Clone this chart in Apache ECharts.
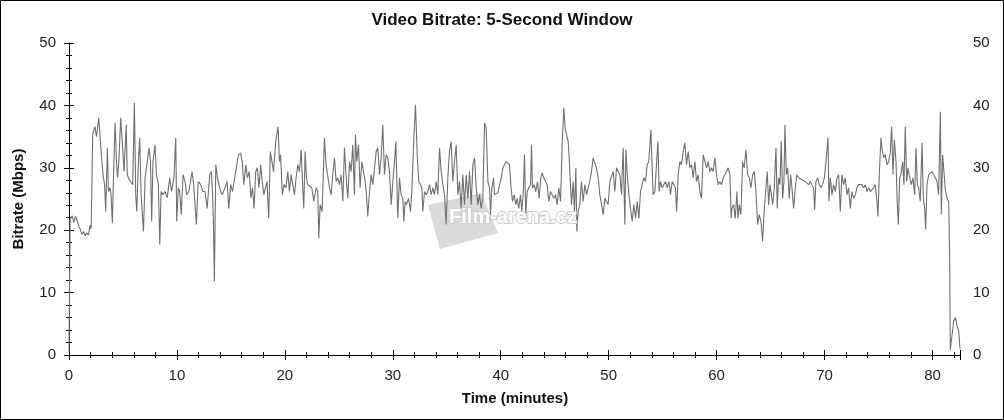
<!DOCTYPE html>
<html><head><meta charset="utf-8">
<script src="https://cdn.jsdelivr.net/npm/echarts@6/dist/echarts.min.js"></script>
<style>html,body{margin:0;padding:0;background:#fff}#c{width:1004px;height:420px}</style>
</head><body><div id="c"></div>
<script>
// [minute, Mbps]
const seg1 = [[0,0.5],[0.1,21.8],[0.3,22.3],[0.45,21.2],[0.6,22.2],[0.75,21.6],[0.9,20.6],[1.05,20.1],[1.2,19.3],[1.35,19.8],[1.5,19.1],[1.65,19.6],[1.8,19.2],[1.95,20.8],[2.05,20.2],[2.2,35.3],[2.4,36.6],[2.55,35.0],[2.75,38.0],[2.85,35.8],[3.0,32.0],[3.15,28.9],[3.3,27.3],[3.4,23.0],[3.56,33.2],[3.65,26.2],[3.8,26.8],[3.9,25.5],[4.02,21.1],[4.12,28.4],[4.27,37.2],[4.4,31.0],[4.5,28.4],[4.62,31.0],[4.79,38.0],[4.95,33.7],[5.1,29.4],[5.3,36.9],[5.4,28.9],[5.55,28.2],[5.7,27.8],[5.9,27.3],[6.06,40.4],[6.18,25.7],[6.28,23.0],[6.43,31.0],[6.55,34.8],[6.68,25.7],[6.9,19.8],[7.05,28.4],[7.25,31.0],[7.42,33.2],[7.55,31.0],[7.66,21.4],[7.78,31.0],[7.97,33.7],[8.1,28.9],[8.28,27.3],[8.41,17.7],[8.53,26.2],[8.7,25.7],[8.9,26.2],[9.1,25.2],[9.33,28.4],[9.5,26.2],[9.72,28.4],[9.89,34.8],[9.98,21.4],[10.13,26.8],[10.25,26.2],[10.4,22.5],[10.57,28.9],[10.75,27.8],[10.9,25.7],[11.1,26.2],[11.4,29.4],[11.55,27.3],[11.8,20.9],[11.97,27.8],[12.2,27.3],[12.4,26.2],[12.6,26.2],[12.8,23.5],[13.04,28.9],[13.2,29.4],[13.3,25.7],[13.38,21.4],[13.47,11.8],[13.6,30.5],[13.75,28.4],[13.9,28.6],[14.05,26.2],[14.2,25.7],[14.45,26.8],[14.65,27.8],[14.8,23.5],[14.98,27.3],[15.15,26.2],[15.35,28.4],[15.5,30.0],[15.7,32.1],[15.9,32.4],[16.05,31.0],[16.2,27.3],[16.38,30.5],[16.53,28.4],[16.7,29.4],[16.85,25.2],[17.0,26.8],[17.15,23.5],[17.3,29.4],[17.45,30.0],[17.6,26.8],[17.76,30.5],[17.9,27.8],[18.05,25.7],[18.2,26.8],[18.35,27.8],[18.5,21.9],[18.65,32.6],[18.8,31.0],[18.95,29.4],[19.15,34.2],[19.37,36.6],[19.5,31.0],[19.6,32.1],[19.77,25.7],[19.93,27.3],[20.1,26.8]];
const seg2 = [[20.27,29.4],[20.42,26.2],[20.58,28.9],[20.73,27.3],[20.89,25.7],[21.04,28.4],[21.2,30.5],[21.35,29.4],[21.51,32.9],[21.66,26.8],[21.75,23.5],[21.88,32.6],[22.0,28.4],[22.12,27.3],[22.28,27.3],[22.49,26.8],[22.68,24.6],[22.9,26.8],[23.05,26.2],[23.14,18.7],[23.27,24.1],[23.45,23.0],[23.67,34.8],[23.82,30.5],[23.98,30.5],[24.13,26.8],[24.29,25.7],[24.44,28.9],[24.6,31.6],[24.75,27.8],[24.9,28.4],[25.06,27.3],[25.21,28.9],[25.37,24.6],[25.52,33.2],[25.68,28.4],[25.83,25.1],[25.99,31.0],[26.14,29.4],[26.29,33.7],[26.45,25.7],[26.54,35.3],[26.66,31.0],[26.82,33.7],[26.97,26.8],[27.13,31.0],[27.31,31.0],[27.44,27.8],[27.56,25.7],[27.68,22.2],[27.84,26.2],[27.99,28.9],[28.15,27.3],[28.3,27.3],[28.46,32.6],[28.61,33.2],[28.77,28.9],[28.92,31.6],[29.07,36.9],[29.23,28.9],[29.38,32.1],[29.54,31.6],[29.69,29.4],[29.85,24.1],[30.0,27.8],[30.16,31.0],[30.28,34.2],[30.46,21.9],[30.62,28.4],[30.77,25.7],[30.93,25.1],[31.02,21.4],[31.14,24.6],[31.27,24.1],[31.45,25.1],[31.64,23.0],[31.76,26.2],[31.95,34.8],[32.1,40.1],[32.26,32.1],[32.41,27.8],[32.57,27.8],[32.69,26.8],[32.78,23.0],[32.94,26.2],[33.09,25.7],[33.24,26.2],[33.4,27.3],[33.55,25.7],[33.71,26.8],[33.86,25.7],[34.02,27.8],[34.17,25.7],[34.33,33.2],[34.48,29.4],[34.64,27.3],[34.79,25.7],[34.94,20.9],[35.1,28.4],[35.25,32.6],[35.41,34.2],[35.56,27.8],[35.72,31.0],[35.87,33.7],[36.03,25.7],[36.18,27.8],[36.33,23.5],[36.49,28.9],[36.64,24.1],[36.8,28.9],[36.95,25.1],[37.11,29.4],[37.26,24.1],[37.42,30.5],[37.57,31.6],[37.73,26.8],[37.88,24.1],[38.03,25.7],[38.19,23.5],[38.34,25.1],[38.5,37.2],[38.65,36.4],[38.81,27.8],[38.96,26.8],[39.05,22.5],[39.18,26.8],[39.33,28.4],[39.42,25.7],[39.58,25.7],[39.73,26.0],[39.89,25.7],[40.04,28.4],[40.2,30.0],[40.35,30.5],[40.5,31.0],[40.66,31.3],[40.81,30.5]];
const seg3 = [[40.93,27.3],[41.09,24.6],[41.24,25.7],[41.4,24.1],[41.52,25.1],[41.67,23.5],[41.83,25.7],[41.95,23.0],[42.08,25.7],[42.2,32.1],[42.32,22.5],[42.45,26.2],[42.6,26.8],[42.76,27.3],[42.85,33.7],[42.94,26.8],[43.1,27.3],[43.25,26.2],[43.4,27.8],[43.56,25.1],[43.71,28.4],[43.84,29.2],[43.99,28.4],[44.15,27.8],[44.3,27.3],[44.45,24.6],[44.61,26.2],[44.76,25.7],[44.92,25.1],[45.07,25.7],[45.23,24.1],[45.38,26.8],[45.54,24.6],[45.69,33.7],[45.84,39.6],[45.97,36.4],[46.09,35.3],[46.25,34.2],[46.34,31.6],[46.43,28.4],[46.56,24.1],[46.71,27.8],[46.83,23.0],[46.96,30.0],[47.05,19.8],[47.17,23.0],[47.33,24.1],[47.48,27.8],[47.64,24.6],[47.79,27.3],[47.95,25.7],[48.1,26.8],[48.25,27.8],[48.41,29.4],[48.56,31.6],[48.72,31.8],[48.87,30.0],[49.03,28.4],[49.18,25.7],[49.34,24.1],[49.49,22.5],[49.64,25.1],[49.8,24.6],[49.95,24.1],[50.11,27.8],[50.26,27.8],[50.42,29.4],[50.57,26.2],[50.73,30.0],[50.88,29.4],[51.03,28.9],[51.19,25.7],[51.34,33.2],[51.5,20.9],[51.59,32.9],[51.71,29.4],[51.87,25.7],[52.02,23.5],[52.18,21.4],[52.33,24.1],[52.49,21.9],[52.64,24.6],[52.8,21.9],[52.95,26.2],[53.1,27.3],[53.26,28.4],[53.41,27.8],[53.57,30.5],[53.72,31.0],[53.91,36.1],[54.03,30.0],[54.12,25.7],[54.28,26.2],[54.43,26.2],[54.56,34.2],[54.68,26.2],[54.8,27.8],[54.96,26.8],[55.11,27.3],[55.27,27.8],[55.42,26.8],[55.58,27.8],[55.73,25.7],[55.88,27.8],[56.04,27.8],[56.19,26.8],[56.29,23.0],[56.44,28.9],[56.6,31.0],[56.75,30.5],[56.9,32.6],[57.06,34.0],[57.21,30.5],[57.37,32.6],[57.52,30.0],[57.68,30.5],[57.83,28.4],[57.99,31.0],[58.14,27.8],[58.29,28.9],[58.45,26.2],[58.6,25.1],[58.76,32.1],[58.91,32.4],[59.07,30.0],[59.22,31.0],[59.38,29.4],[59.53,30.0],[59.68,29.4],[59.84,31.6],[59.99,28.9],[60.15,27.3],[60.3,27.8],[60.46,27.3],[60.61,28.4],[60.77,28.9],[60.92,29.4],[61.07,30.0],[61.23,28.9],[61.35,21.9]];
const seg4 = [[61.42,23.5],[61.57,24.1],[61.73,21.9],[61.88,26.2],[61.98,21.9],[62.1,24.1],[62.25,22.5],[62.41,31.0],[62.56,30.0],[62.72,32.9],[62.87,28.9],[63.03,28.4],[63.18,26.8],[63.34,28.9],[63.49,29.4],[63.64,26.2],[63.8,20.9],[63.95,22.5],[64.11,21.4],[64.26,18.2],[64.42,23.5],[64.57,26.8],[64.69,29.4],[64.82,24.1],[64.94,27.3],[65.07,25.7],[65.19,24.1],[65.34,26.8],[65.5,33.2],[65.62,23.5],[65.74,28.4],[65.87,27.3],[65.99,34.2],[66.12,25.1],[66.24,27.8],[66.33,36.9],[66.46,28.9],[66.58,30.0],[66.73,25.1],[66.86,28.9],[66.98,26.8],[67.14,23.5],[67.29,26.8],[67.44,28.9],[67.6,28.4],[67.75,28.4],[67.91,28.1],[68.06,28.4],[68.22,27.8],[68.37,28.1],[68.53,27.3],[68.68,27.8],[68.83,27.3],[68.99,26.8],[69.08,23.3],[69.2,27.8],[69.36,28.4],[69.51,27.3],[69.67,26.8],[69.82,27.3],[69.98,28.4],[70.13,31.0],[70.32,34.8],[70.41,24.6],[70.53,28.4],[70.69,25.7],[70.84,27.3],[71.0,26.2],[71.15,28.4],[71.31,28.9],[71.46,23.0],[71.61,28.9],[71.77,27.3],[71.92,28.4],[72.08,25.7],[72.23,26.8],[72.39,23.5],[72.54,26.2],[72.7,25.1],[72.85,25.7],[73.0,26.8],[73.16,27.3],[73.31,27.0],[73.47,27.3],[73.62,26.8],[73.78,27.3],[73.93,26.2],[74.09,26.8],[74.24,26.2],[74.39,26.5],[74.55,26.8],[74.7,27.3],[74.86,24.6],[74.95,22.2],[75.07,28.9],[75.23,34.8],[75.32,33.2],[75.48,31.6],[75.63,32.1],[75.79,30.5],[75.94,31.0],[76.09,32.4],[76.22,36.6],[76.34,28.9],[76.47,34.5],[76.62,31.0],[76.74,24.1],[76.84,20.9],[76.96,28.4],[77.08,28.9],[77.24,31.0],[77.36,27.3],[77.48,36.6],[77.61,27.8],[77.73,30.0],[77.89,28.4],[78.04,27.3],[78.19,28.4],[78.35,25.7],[78.47,33.2],[78.6,27.3],[78.72,26.8],[78.87,24.6],[79.03,34.0],[79.15,25.1],[79.28,23.5],[79.37,20.1],[79.49,27.3],[79.65,28.9],[79.8,29.2],[79.96,29.4],[80.11,28.9],[80.26,28.4],[80.42,27.8],[80.57,25.7],[80.73,39.0],[80.82,22.5],[80.94,32.1],[81.07,32.4],[81.19,26.5],[81.35,25.1],[81.5,24.6],[81.59,16.1],[81.65,0.8],[81.81,3.2],[81.96,5.4],[82.12,6.0],[82.27,4.8],[82.43,3.8],[82.55,1.0]];

const TITLE = 'Video Bitrate: 5-Second Window';
const X_NAME = 'Time (minutes)';
const Y_NAME = 'Bitrate (Mbps)';
const WATERMARK = 'Film-arena.cz';
const X_MAX = 82.55, Y_MAX = 50;

const FONT = '"Liberation Sans", Arial, Helvetica, sans-serif';
const BLACK = '#000';
const bitrate = seg1.concat(seg2, seg3, seg4);

function xAx(pos, inside, labels, minor) {
  return {
    type: 'value', position: pos, min: 0, max: X_MAX, interval: 10,
    axisLine: { show: !inside, lineStyle: { color: BLACK, width: 1 } },
    axisTick: { show: true, inside: inside, length: 5, lineStyle: { color: BLACK, width: 1 } },
    minorTick: { show: minor, splitNumber: 5, length: 3, lineStyle: { color: BLACK, width: 1 } },
    axisLabel: { show: labels, color: '#222', fontSize: 15, fontFamily: FONT, margin: 13,
      formatter: v => (Math.abs(v % 10) < 1e-6 ? String(v) : '') },
    splitLine: { show: false }, minorSplitLine: { show: false }
  };
}
function yAx(pos, inside, labels) {
  return {
    type: 'value', position: pos, min: 0, max: Y_MAX, interval: 10,
    axisLine: { show: !inside, lineStyle: { color: BLACK, width: 1 } },
    axisTick: { show: true, inside: inside, length: 5, lineStyle: { color: BLACK, width: 1 } },
    minorTick: { show: true, splitNumber: 5, length: 3, lineStyle: { color: BLACK, width: 1 } },
    axisLabel: { show: labels, color: '#222', fontSize: 15, fontFamily: FONT, margin: 13 },
    splitLine: { show: false }, minorSplitLine: { show: false }
  };
}

const chart = echarts.init(document.getElementById('c'), null, { renderer: 'canvas' });
chart.setOption({
  animation: false,
  backgroundColor: '#fff',
  grid: { left: 69, right: 44, top: 43, bottom: 65, containLabel: false },
  xAxis: [xAx('bottom', false, true, true), xAx('bottom', true, false, false),
          xAx('top', false, false, true), xAx('top', true, false, false)],
  yAxis: [yAx('left', false, true), yAx('left', true, false),
          yAx('right', false, true), yAx('right', true, false)],
  series: [{
    type: 'line', xAxisIndex: 0, yAxisIndex: 0, data: bitrate,
    showSymbol: false, symbol: 'none', smooth: false,
    lineStyle: { color: '#707070', width: 1.1 }, z: 3
  }],
  graphic: [
    { type: 'polygon', z: 1, shape: { points: [[428,205],[481,193],[498,233],[440,249]] },
      style: { fill: '#dadada' } },
    { type: 'text', z: 10, x: 513, y: 217,
      style: { text: WATERMARK, fill: '#ffffff', stroke: '#cfcfcf', lineWidth: 2,
        font: 'bold 20px ' + FONT, align: 'center', verticalAlign: 'middle' } },
    { type: 'text', x: 502, y: 20,
      style: { text: TITLE, fill: '#111', font: 'bold 17px ' + FONT, align: 'center', verticalAlign: 'middle' } },
    { type: 'text', x: 515, y: 399,
      style: { text: X_NAME, fill: '#111', font: 'bold 15px ' + FONT, align: 'center', verticalAlign: 'middle' } },
    { type: 'text', x: 19, y: 199, rotation: Math.PI / 2,
      style: { text: Y_NAME, fill: '#111', font: 'bold 15px ' + FONT, align: 'center', verticalAlign: 'middle' } },
    { type: 'rect', z: 20, shape: { x: 0.5, y: 0.5, width: 1003, height: 419 },
      style: { fill: 'none', stroke: '#000', lineWidth: 1 } }
  ]
});
</script></body></html>
